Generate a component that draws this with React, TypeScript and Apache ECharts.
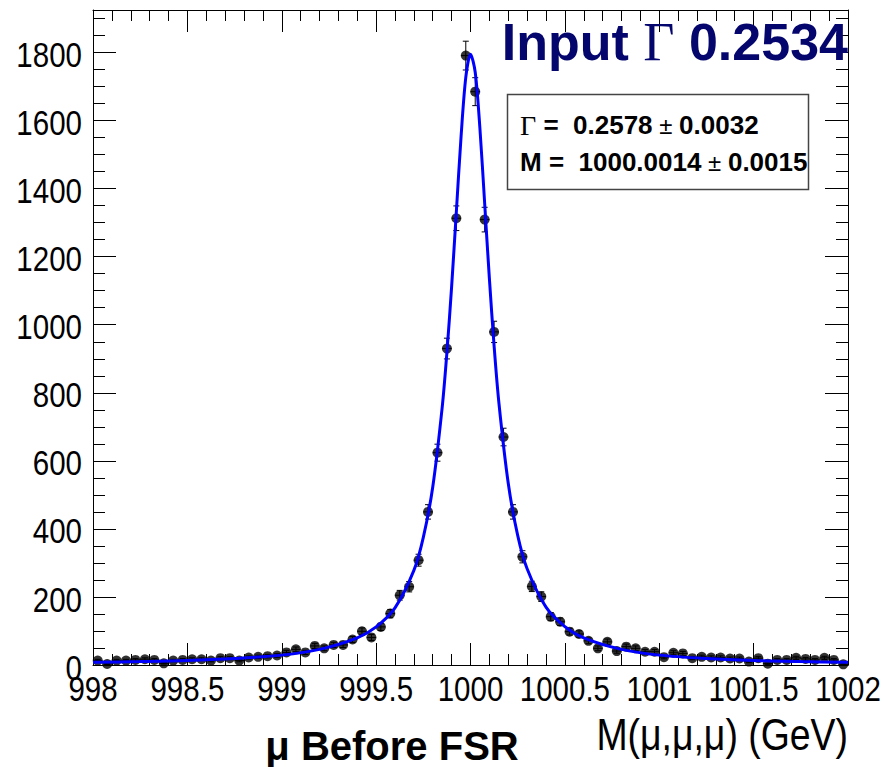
import React, { useEffect, useRef } from "react";
import * as echarts from "echarts";

// Histogram definition (x axis in GeV)
const binLow = 998;
const binWidth = 0.05;
// Counts per bin (80 bins from 998 to 1002)
const counts = [
  13, 3, 13, 13, 15, 17, 15, 5, 13, 15,
  17, 17, 13, 20, 20, 13, 22, 24, 26, 28,
  37, 46, 37, 56, 49, 59, 59, 75, 99, 81,
  112, 151, 205, 230, 308, 450, 624, 930, 1313, 1791,
  1685, 1309, 979, 670, 450, 318, 231, 201, 142, 127,
  98, 91, 71, 49, 68, 41, 54, 49, 39, 39,
  23, 36, 34, 20, 24, 22, 22, 19, 19, 10,
  20, 4, 15, 15, 21, 18, 15, 21, 15, 2,
];
// Fitted curve
const curveX = [
  998, 998.25, 998.5, 998.75, 999, 999.2, 999.4, 999.5, 999.6, 999.7,
  999.75, 999.8, 999.85, 999.875, 999.9, 999.925, 999.95, 999.975, 1000,
  1000.025, 1000.05, 1000.075, 1000.1, 1000.125, 1000.15, 1000.2, 1000.25,
  1000.3, 1000.4, 1000.5, 1000.6, 1000.8, 1001, 1001.25, 1001.5, 1001.75, 1002,
];
const curveY = [
  8, 10, 13, 19, 29, 46, 80, 112, 168, 278,
  375, 523, 757, 918, 1112, 1332, 1553, 1727, 1795,
  1742, 1576, 1357, 1136, 938, 773, 534, 381,
  283, 170, 113, 80, 46, 29, 19, 13, 10, 8,
];
const xTickLabels = ["998", "998.5", "999", "999.5", "1000", "1000.5", "1001", "1001.5", "1002"];
const yTickLabels = ["0", "200", "400", "600", "800", "1000", "1200", "1400", "1600", "1800"];
const titleText = { pre: "Input ", sym: "Γ", post: " 0.2534" };
const statLines = [
  { sym: "Γ", name: "", value: "0.2578", err: "0.0032" },
  { sym: "", name: "M", value: "1000.0014", err: "0.0015" },
];
const xTitle = "M(μ,μ,μ) (GeV)";
const subTitle = "μ Before FSR";

const SANS = "'Liberation Sans', Arial, Helvetica, sans-serif";
const SERIF = "'Liberation Serif', 'Times New Roman', serif";
const NARROW_SCALE = 0.82;

export default function App() {
  const ref = useRef<HTMLDivElement>(null);
  useEffect(() => {
    if (!ref.current) return;
    const chart = echarts.init(ref.current, undefined, { renderer: "svg" });
    const binCenters = counts.map((_, i) => binLow + binWidth * (i + 0.5));
    const points = binCenters.map((x, i) => [x, counts[i]]);
    const curve = curveX.map((x, i) => [x, curveY[i]]);

    const tickCommon = {
      axisLine: { show: true, onZero: false, lineStyle: { color: "#000", width: 1 } },
      splitLine: { show: false },
      axisLabel: { show: false },
    };
    const xTicks = {
      axisTick: { show: true, inside: true, length: 22, lineStyle: { color: "#000" } },
      minorTick: { show: true, splitNumber: 5, length: 11, lineStyle: { color: "#000" } },
    };
    const yTicks = {
      axisTick: { show: true, inside: true, length: 23, lineStyle: { color: "#000" } },
      minorTick: { show: true, splitNumber: 4, length: 12, lineStyle: { color: "#000" } },
    };

    chart.setOption({
      animation: false,
      backgroundColor: "#fff",
      grid: { left: 93, top: 10, width: 755, height: 655, show: false, containLabel: false },
      xAxis: [
        { type: "value", min: 998, max: 1002, interval: 0.5, position: "bottom", ...tickCommon, ...xTicks },
        { type: "value", min: 998, max: 1002, interval: 0.5, position: "top", ...tickCommon, ...xTicks },
      ],
      yAxis: [
        { type: "value", min: 0, max: 1925, interval: 200, position: "left", ...tickCommon, ...yTicks },
        { type: "value", min: 0, max: 1925, interval: 200, position: "right", ...tickCommon, ...yTicks },
      ],
      series: [
        {
          type: "custom",
          xAxisIndex: 0, yAxisIndex: 0,
          data: points,
          renderItem: (params: any, api: any) => {
            const x = api.value(0);
            const y = api.value(1);
            const err = Math.sqrt(y);
            const top = api.coord([x, y + err]);
            const bot = api.coord([x, Math.max(0, y - err)]);
            const l = api.coord([x - binWidth / 2, y]);
            const r = api.coord([x + binWidth / 2, y]);
            const st = { stroke: "#000", lineWidth: 1 };
            const cap = 3;
            return {
              type: "group",
              children: [
                { type: "line", shape: { x1: top[0], y1: top[1], x2: bot[0], y2: bot[1] }, style: st },
                { type: "line", shape: { x1: top[0] - cap, y1: top[1], x2: top[0] + cap, y2: top[1] }, style: st },
                { type: "line", shape: { x1: bot[0] - cap, y1: bot[1], x2: bot[0] + cap, y2: bot[1] }, style: st },
                { type: "line", shape: { x1: l[0], y1: l[1], x2: r[0], y2: r[1] }, style: st },
              ],
            };
          },
          z: 2,
        },
        {
          type: "scatter",
          xAxisIndex: 0, yAxisIndex: 0,
          data: points,
          symbol: "circle",
          symbolSize: 10,
          itemStyle: { color: "#000" },
          z: 3,
        },
        {
          type: "line",
          xAxisIndex: 0, yAxisIndex: 0,
          data: curve,
          smooth: 0.3,
          showSymbol: false,
          lineStyle: { color: "#0000ff", width: 3 },
          z: 4,
        },
      ],
    });

    // Tick labels positioned with the chart's own scales, drawn condensed
    const labelEls: any[] = [];
    xTickLabels.forEach((t) => {
      const v = parseFloat(t);
      const px = chart.convertToPixel({ xAxisIndex: 0 }, v) as number;
      labelEls.push({
        type: "text", x: px, y: 688, scaleX: NARROW_SCALE, z: 9,
        style: { text: t, align: "center", verticalAlign: "middle", fontFamily: SANS, fontSize: 36, fill: "#000" },
      });
    });
    yTickLabels.forEach((t) => {
      const v = parseFloat(t);
      const py = chart.convertToPixel({ yAxisIndex: 0 }, v) as number;
      labelEls.push({
        type: "text", x: 82, y: py + 2, scaleX: NARROW_SCALE, z: 8,
        style: { text: t, align: "right", verticalAlign: "middle", fontFamily: SANS, fontSize: 36, fill: "#000" },
      });
    });

    chart.setOption({
      graphic: [
        ...labelEls,
        {
          type: "text",
          x: 848, y: 42, z: 10,
          style: {
            text: `{b|${titleText.pre}}{g|${titleText.sym}}{b|${titleText.post}}`,
            align: "right", verticalAlign: "middle",
            rich: {
              b: { fontFamily: SANS, fontWeight: "bold", fontSize: 52, fill: "#05056e" },
              g: { fontFamily: SERIF, fontSize: 54, fill: "#05056e" },
            },
          },
        },
        {
          type: "rect", z: 10,
          shape: { x: 507.5, y: 94.5, width: 301, height: 95 },
          style: { fill: "#fff", stroke: "#444", lineWidth: 1.5 },
        },
        ...statLines.map((s, i) => ({
          type: "text", z: 11,
          x: 520, y: 125 + i * 37,
          style: {
            text: (s.sym ? `{g|${s.sym}}` : `{b|${s.name}}`) + `{b| =  ${s.value}}{n| ± }{b|${s.err}}`,
            align: "left", verticalAlign: "middle",
            rich: {
              b: { fontFamily: SANS, fontWeight: "bold", fontSize: 26, fill: "#000" },
              g: { fontFamily: SERIF, fontSize: 28, fill: "#000" },
              n: { fontFamily: SANS, fontSize: 24, fill: "#000" },
            },
          },
        })),
        {
          type: "text", z: 10,
          x: 848, y: 735, scaleX: 0.85,
          style: { text: xTitle, align: "right", verticalAlign: "middle", fontFamily: SANS, fontSize: 44, fill: "#000" },
        },
        {
          type: "text", z: 10,
          x: 392, y: 746,
          style: { text: subTitle, align: "center", verticalAlign: "middle", fontFamily: SANS, fontWeight: "bold", fontSize: 40, fill: "#000" },
        },
      ],
    });
    return () => chart.dispose();
  }, []);
  return (
    <div
      ref={ref}
      style={{ position: "fixed", left: 0, top: 0, width: 887, height: 767, background: "#fff" }}
    />
  );
}
